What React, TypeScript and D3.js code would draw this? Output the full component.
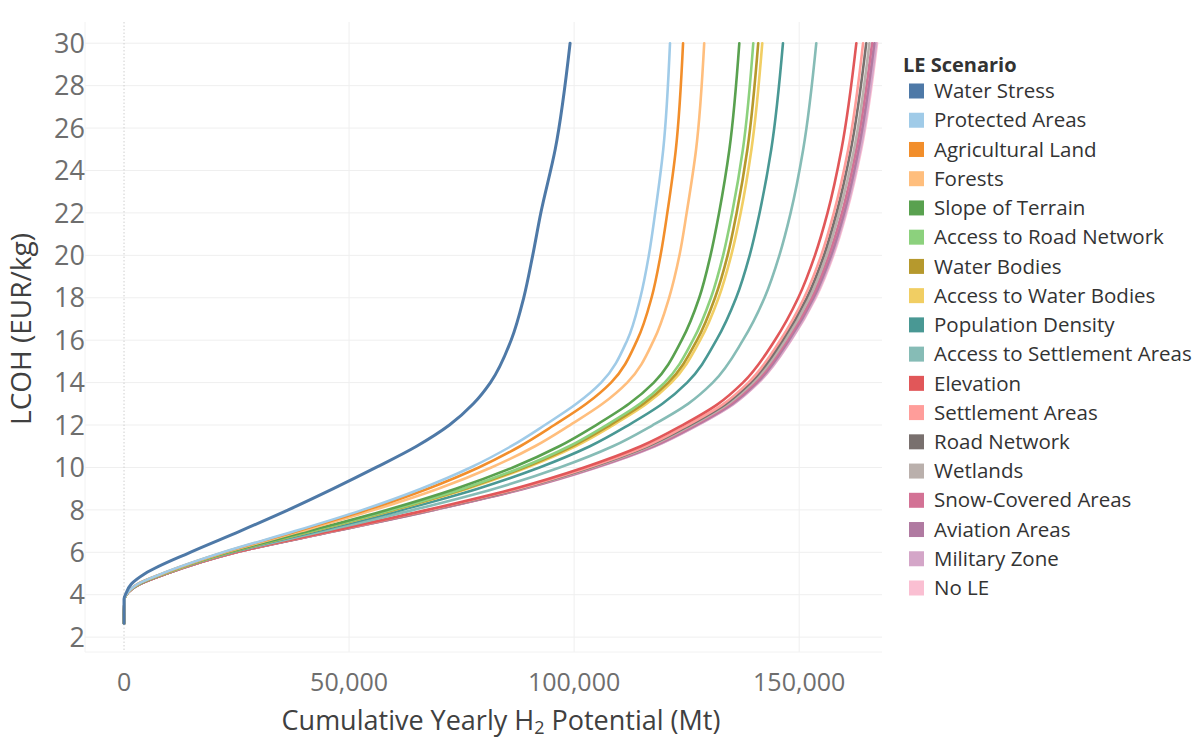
import React from "react";
import * as d3 from "d3";

const lcohLevels = [2.65, 3.8, 4, 4.5, 5, 6, 7, 8, 9, 10, 11, 12, 13, 14, 16, 18, 20, 22, 25, 30];

// cumulative yearly potential, thousand Mt, one value per level
const waterStress = [0, 0, 0.3, 1.6, 4.7, 14.7, 25.8, 36.5, 46.5, 56, 65, 72.3, 77.6, 81.4, 86, 88.8, 90.8, 92.6, 95.8, 99.1];
const protectedAreas = [0, 0.1, 0.5, 3, 8.5, 22, 38, 53, 66, 77, 86, 93.5, 100.5, 106, 111.8, 114.7, 116.6, 118, 119.8, 121.3];
const agriculturalLand = [0, 0.1, 0.5, 3.0, 8.6, 22.2, 38.6, 54.0, 67.5, 78.8, 88.0, 95.6, 102.7, 108.2, 114.0, 117.2, 119.2, 120.7, 122.6, 124.2];
const forests = [0, 0.1, 0.5, 3.1, 8.7, 22.5, 39.5, 55.6, 69.8, 81.6, 91.3, 99.1, 106.3, 111.8, 117.7, 121.1, 123.4, 125.0, 127.1, 128.9];
const slopeOfTerrain = [0, 0.1, 0.5, 3.2, 8.8, 23.0, 41.0, 58.4, 73.7, 86.4, 96.7, 104.9, 112.2, 117.7, 123.9, 127.8, 130.3, 132.2, 134.5, 136.7];
const accessRoadNetwork = [0, 0.1, 0.5, 3.2, 8.9, 23.2, 41.6, 59.4, 75.3, 88.3, 98.9, 107.2, 114.6, 120.1, 126.4, 130.4, 133.1, 135.1, 137.5, 139.8];
const waterBodies = [0, 0.1, 0.5, 3.2, 8.9, 23.3, 41.8, 59.8, 75.8, 88.9, 99.6, 108.0, 115.4, 120.9, 127.3, 131.3, 134.1, 136.1, 138.5, 140.9];
const accessWaterBodies = [0, 0.1, 0.5, 3.2, 9.0, 23.3, 42.0, 60.1, 76.3, 89.5, 100.3, 108.7, 116.1, 121.6, 128.0, 132.1, 134.9, 137.0, 139.4, 141.8];
const populationDensity = [0, 0.1, 0.5, 3.3, 9.1, 23.6, 42.9, 61.7, 78.6, 92.3, 103.5, 112.1, 119.6, 125.1, 131.6, 136.0, 139.0, 141.2, 143.8, 146.4];
const accessSettlement = [0, 0.1, 0.5, 3.4, 9.2, 24.1, 44.4, 64.3, 82.3, 96.8, 108.6, 117.5, 125.3, 130.8, 137.5, 142.3, 145.6, 148.1, 150.9, 153.8];
const elevation = [0, 0.1, 0.5, 3.5, 9.4, 24.7, 46.1, 67.4, 86.7, 102.2, 114.8, 124.1, 132.0, 137.5, 144.6, 149.8, 153.5, 156.3, 159.4, 162.7];
const settlementAreas = [0, 0.1, 0.5, 3.5, 9.4, 24.8, 46.4, 67.9, 87.5, 103.1, 115.9, 125.2, 133.2, 138.7, 145.8, 151.1, 154.9, 157.7, 160.9, 164.2];
const roadNetwork = [0, 0.1, 0.5, 3.5, 9.5, 24.8, 46.5, 68.2, 87.8, 103.5, 116.3, 125.7, 133.7, 139.2, 146.3, 151.7, 155.5, 158.3, 161.5, 164.9];
const wetlands = [0, 0.1, 0.5, 3.5, 9.5, 24.9, 46.7, 68.4, 88.2, 104.0, 116.8, 126.2, 134.2, 139.7, 146.9, 152.3, 156.1, 158.9, 162.2, 165.6];
const snowCovered = [0, 0.1, 0.5, 3.5, 9.5, 24.9, 46.8, 68.6, 88.5, 104.3, 117.2, 126.7, 134.7, 140.2, 147.3, 152.8, 156.6, 159.5, 162.7, 166.2];
const aviationAreas = [0, 0.1, 0.5, 3.5, 9.5, 25.0, 46.9, 68.8, 88.7, 104.6, 117.6, 127.1, 135.1, 140.6, 147.7, 153.2, 157.1, 160.0, 163.2, 166.7];
const militaryZone = [0, 0.1, 0.5, 3.5, 9.5, 25.0, 47.0, 68.9, 88.9, 104.9, 117.9, 127.4, 135.4, 140.9, 148.1, 153.5, 157.4, 160.3, 163.6, 167.1];
const noLE = [0, 0.1, 0.5, 3.5, 9.5, 25, 47, 69, 89, 105, 118, 127.5, 135.5, 141, 148.2, 153.7, 157.6, 160.5, 163.8, 167.3];

const scenarioNames = [
  "Water Stress", "Protected Areas", "Agricultural Land", "Forests", "Slope of Terrain",
  "Access to Road Network", "Water Bodies", "Access to Water Bodies", "Population Density",
  "Access to Settlement Areas", "Elevation", "Settlement Areas", "Road Network", "Wetlands",
  "Snow-Covered Areas", "Aviation Areas", "Military Zone", "No LE",
];
const scenarioValues = [
  waterStress, protectedAreas, agriculturalLand, forests, slopeOfTerrain, accessRoadNetwork,
  waterBodies, accessWaterBodies, populationDensity, accessSettlement, elevation, settlementAreas,
  roadNetwork, wetlands, snowCovered, aviationAreas, militaryZone, noLE,
];
const scenarioColors = [
  "#4e79a7", "#a0cbe8", "#f28e2b", "#ffbe7d", "#59a14f", "#8cd17d", "#b6992d", "#f1ce63", "#499894",
  "#86bcb6", "#e15759", "#ff9d9a", "#79706e", "#bab0ac", "#d37295", "#b07aa1", "#d4a6c8", "#fabfd2",
];

const xTicks = [0, 50, 100, 150];
const yTicks = [2, 4, 6, 8, 10, 12, 14, 16, 18, 20, 22, 24, 26, 28, 30];

const W = 1203;
const H = 740;
const plot = { left: 85, right: 882, top: 22, bottom: 652 };
const font = "'Open Sans', 'Noto Sans', sans-serif";

const App = () => {
  const x = d3.scaleLinear().domain([-8.67, 168.4]).range([plot.left, plot.right]);
  const y = d3.scaleLinear().domain([1.3, 31]).range([plot.bottom, plot.top]);

  const line = d3
    .line<[number, number]>()
    .x((d) => x(d[0]))
    .y((d) => y(d[1]))
    .curve(d3.curveMonotoneY);

  const series = scenarioNames.map((name, i) => ({
    name,
    color: scenarioColors[i],
    points: scenarioValues[i].map((v, j) => [v, lcohLevels[j]] as [number, number]),
  }));

  const fmt = d3.format(",");
  const legendY = d3.scaleLinear().domain([0, 17]).range([91, 588]);

  return (
    <svg
      width={W}
      height={H}
      style={{ position: "absolute", left: 0, top: 0, background: "#fff" }}
      fontFamily={font}
    >
      {/* grid */}
      {yTicks.map((t) => (
        <line key={"gy" + t} x1={plot.left} x2={plot.right} y1={y(t)} y2={y(t)} stroke="#efefef" strokeWidth={1} />
      ))}
      {xTicks.filter((t) => t !== 0).map((t) => (
        <line key={"gx" + t} x1={x(t)} x2={x(t)} y1={plot.top} y2={plot.bottom} stroke="#efefef" strokeWidth={1} />
      ))}
      <line x1={plot.left} x2={plot.left} y1={plot.top} y2={plot.bottom} stroke="#f2f2f2" />
      <line x1={plot.left} x2={plot.right} y1={plot.bottom} y2={plot.bottom} stroke="#f2f2f2" />
      <line x1={x(0)} x2={x(0)} y1={plot.top} y2={plot.bottom} stroke="#cfcfcf" strokeDasharray="1.5 2" />

      {/* curves */}
      {series
        .slice()
        .reverse()
        .map((s) => (
          <path
            key={s.name}
            d={line(s.points) || ""}
            fill="none"
            stroke={s.color}
            strokeWidth={s.name === "Water Stress" ? 3 : 2.6}
            strokeLinejoin="round"
            strokeLinecap="round"
          />
        ))}

      {/* y axis */}
      {yTicks.map((t) => (
        <text key={"ty" + t} x={85} y={y(t)} dy="0.36em" textAnchor="end" fontSize={27} fill="#6e6e6e">
          {t}
        </text>
      ))}
      <text
        transform={`translate(31,${329}) rotate(-90)`}
        textAnchor="middle"
        fontSize={28}
        fill="#404040"
      >
        LCOH (EUR/kg)
      </text>

      {/* x axis */}
      {xTicks.map((t) => (
        <text key={"tx" + t} x={x(t)} y={691} textAnchor="middle" fontSize={25} fill="#6e6e6e">
          {fmt(t * 1000)}
        </text>
      ))}
      <text x={501} y={730} textAnchor="middle" fontSize={27} fill="#404040">
        Cumulative Yearly H
        <tspan fontSize={18} dy={4}>2</tspan>
        <tspan dy={-4}> Potential (Mt)</tspan>
      </text>

      {/* legend */}
      <text x={903} y={72} fontSize={20} fontWeight="bold" fill="#333">
        LE Scenario
      </text>
      {series.map((s, i) => (
        <g key={"lg" + s.name} transform={`translate(0,${legendY(i)})`}>
          <rect x={909} y={-7.5} width={15} height={15} fill={s.color} />
          <text x={934} y={0} dy="0.35em" fontSize={20.5} fill="#333">
            {s.name}
          </text>
        </g>
      ))}
    </svg>
  );
};

export default App;
